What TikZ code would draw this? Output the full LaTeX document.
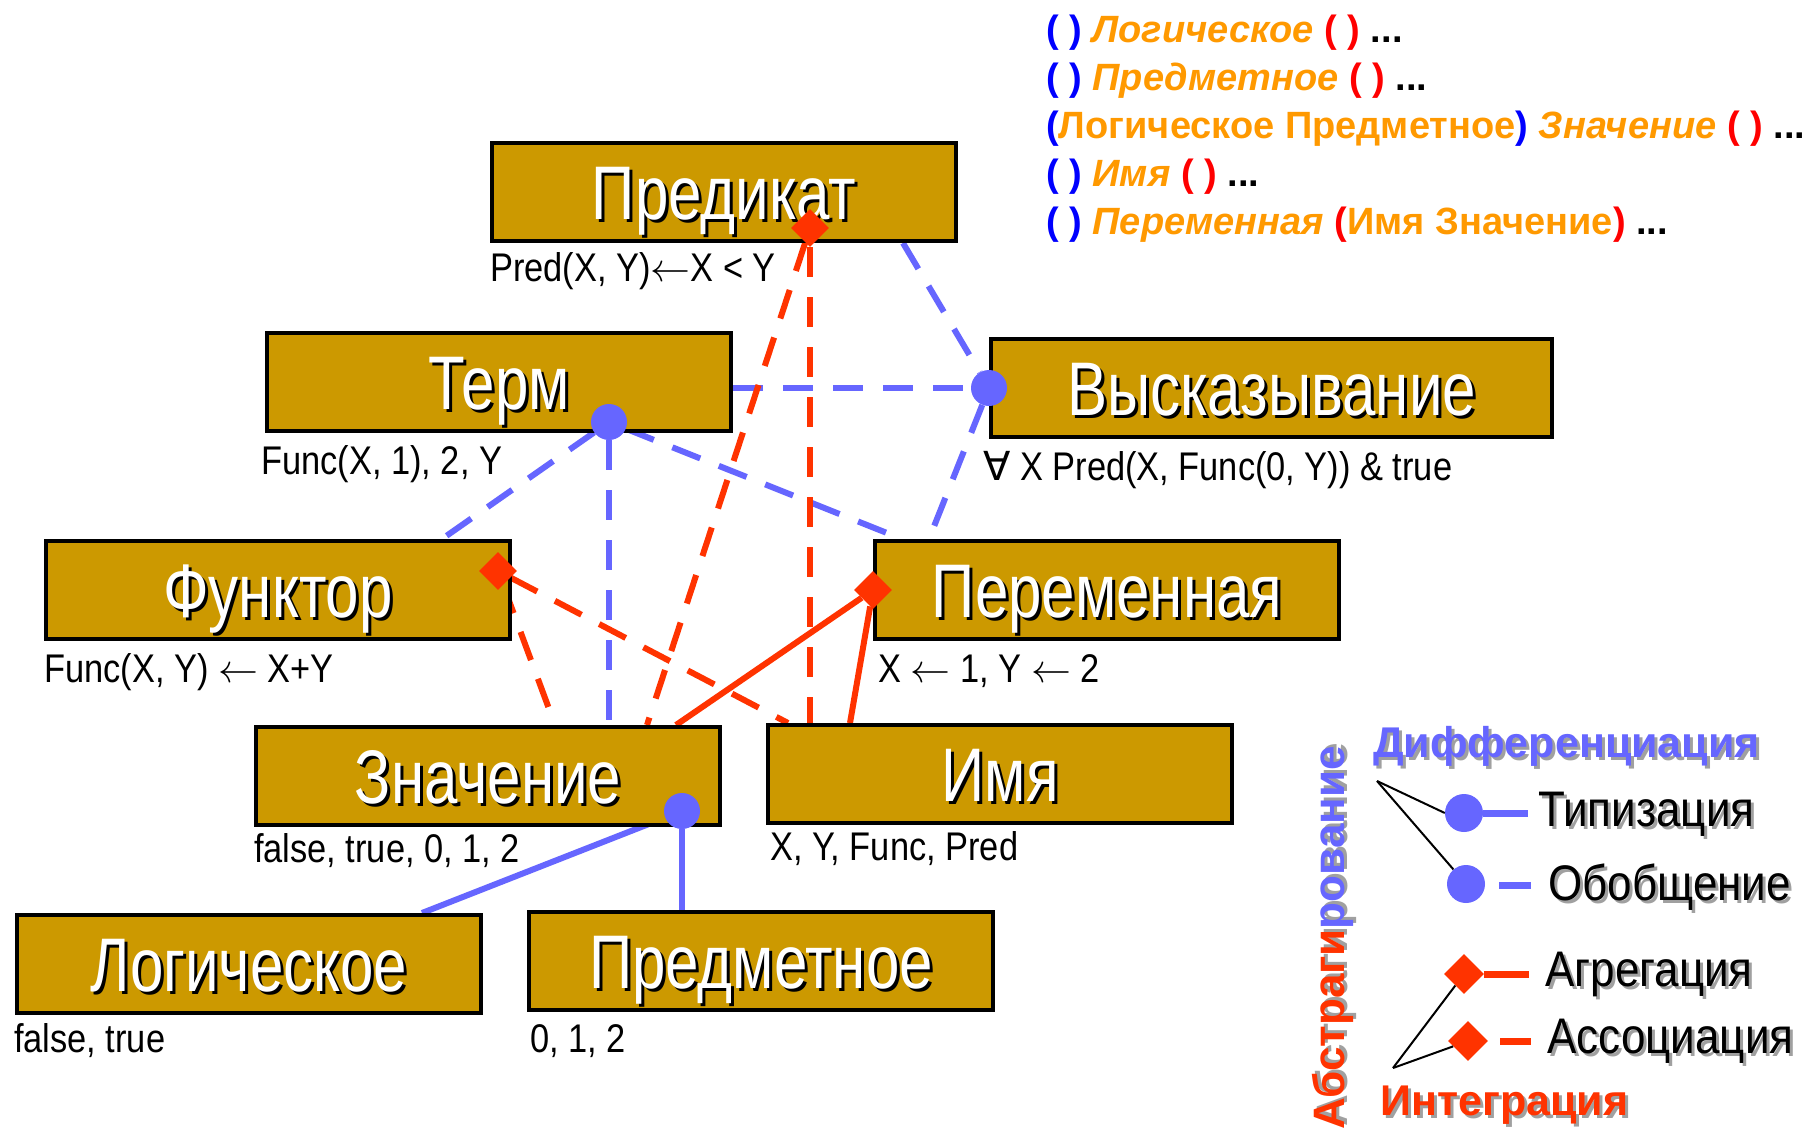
\RequirePackage{fix-cm}
\documentclass[tikz,border=0pt]{standalone}
\usepackage{fontspec}
\setmainfont{Liberation Sans}
\newfontfamily\boxfont[FakeStretch=0.79]{Liberation Sans}
\newfontfamily\lblfont[FakeStretch=0.86]{Liberation Sans}
\newfontfamily\legfont[FakeStretch=0.88]{Liberation Sans}
\newfontfamily\symfont{DejaVu Sans}
\usetikzlibrary{shapes.geometric,calc,backgrounds}

\definecolor{gold}{HTML}{CC9900}
\definecolor{lilac}{HTML}{6666FF}
\definecolor{scarlet}{HTML}{FF3300}
\definecolor{amber}{HTML}{FF9900}
\definecolor{pureblue}{HTML}{0000FF}
\definecolor{purered}{HTML}{FF0000}
\definecolor{shade}{HTML}{A0A0A0}

% text with a drop shadow: #1 shadow colour, #2 text
\newcommand\shtext[2]{\makebox[0pt][l]{\hspace{3pt}\raisebox{-3pt}{\color{#1}#2}}#2}
% two-coloured text with a grey drop shadow
\newcommand\shtwo[2]{\makebox[0pt][l]{\hspace{3pt}\raisebox{-3pt}{\color{shade}#1#2}}\textcolor{scarlet}{#1}\textcolor{lilac}{#2}}
\newcommand\larr{$\leftarrow$}

\tikzset{
  box/.style={draw=black, line width=4pt, fill=gold, minimum width=464pt,
    minimum height=98pt, anchor=north west, inner sep=0pt, text=white,
    text height=54pt, text depth=0pt,
    font=\boxfont\fontsize{76}{80}\selectfont},
  lbl/.style={anchor=base west, inner sep=0pt,
    font=\lblfont\fontsize{40}{42}\selectfont},
  gen/.style={draw=lilac, line width=6pt, dash pattern=on 30pt off 20pt},
  typ/.style={draw=lilac, line width=6pt},
  assoc/.style={draw=scarlet, line width=6pt, dash pattern=on 30pt off 20pt},
  aggr/.style={draw=scarlet, line width=6pt},
  dot/.style={circle, fill=lilac, inner sep=0pt, minimum size=36pt},
  rhomb/.style={diamond, fill=scarlet, inner sep=0pt, minimum size=38pt},
  toptxt/.style={anchor=base west, inner sep=0pt,
    font=\bfseries\fontsize{38}{40}\selectfont},
  legtxt/.style={anchor=west, inner sep=0pt,
    font=\legfont\fontsize{50}{52}\selectfont},
  headtxt/.style={inner sep=0pt, font=\bfseries\fontsize{43}{46}\selectfont},
  pointer/.style={draw=black, line width=2pt},
}

\begin{document}
\begin{tikzpicture}[x=1pt, y=-1pt]
\useasboundingbox (0,0) rectangle (1809,1130);

% concept boxes
\node[box] (pred)  at (490,141)  {\shtext{black}{Предикат}};
\node[box] (term)  at (265,331)  {\shtext{black}{Терм}};
\node[box, minimum width=561pt] (vysk) at (989,337) {\shtext{black}{Высказывание}};
\node[box] (func)  at (44,539)   {\shtext{black}{Функтор}};
\node[box] (perem) at (873,539)  {\shtext{black}{Переменная}};
\node[box] (znach) at (254,725)  {\shtext{black}{Значение}};
\node[box] (name)  at (766,723)  {\shtext{black}{Имя}};
\node[box] (logic) at (15,913)   {\shtext{black}{Логическое}};
\node[box] (subj)  at (527,910)  {\shtext{black}{Предметное}};

% examples under the boxes
\node[lbl] (lpred)  at (490,281)  {Pred(X, Y)\larr X < Y};
\node[lbl] (lterm)  at (261,474)  {Func(X, 1), 2, Y};
\node[lbl] (lvysk)  at (983,480)  {{\symfont ∀} X Pred(X, Func(0, Y)) \& true};
\node[lbl] (lfunc)  at (44,682)   {Func(X, Y) \larr{} X+Y};
\node[lbl] (lperem) at (878,682)  {X \larr{} 1, Y \larr{} 2};
\node[lbl] (lznach) at (254,862)  {false, true, 0, 1, 2};
\node[lbl] (lname)  at (770,860)  {X, Y, Func, Pred};
\node[lbl] (llogic) at (14,1052)  {false, true};
\node[lbl] (lsubj)  at (530,1052) {0, 1, 2};

% relation markers
\node[dot]   (tdot) at (609,422) {};
\node[dot]   (vdot) at (vysk.west) {};
\node[dot]   (zdot) at (682,811) {};
\node[rhomb] (pdia) at (810,228) {};
\node[rhomb] (fdia) at (498,571) {};
\node[rhomb] (vdia) at (perem.west) {};

\begin{scope}[on background layer]
  \fill[white] (0,0) rectangle (1809,1130);
  % generalisation
  \draw[gen] (term.east |- vdot) -- (vdot);
  \draw[gen] ([xshift=413pt]pred.south west) -- (vdot);
  \draw[gen] (vdot) -- ([xshift=56pt]perem.north west);
  \draw[gen] (tdot) -- ([xshift=398pt]func.north west);
  \draw[gen] (tdot) -- (tdot |- znach.north);
  \draw[gen] (tdot) -- ([xshift=29pt]perem.north west);
  % typing
  \draw[typ] (zdot) -- ([xshift=407pt]logic.north west);
  \draw[typ] (zdot) -- (zdot |- subj.north);
  % association
  \draw[assoc] (pdia) -- ([xshift=393pt]znach.north west);
  \draw[assoc] (pdia) -- (pdia |- name.north);
  \draw[assoc] (fdia) -- ([xshift=301pt]znach.north west);
  \draw[assoc] (fdia) -- ([xshift=22pt]name.north west);
  % aggregation
  \draw[aggr] (vdia) -- ([xshift=422pt]znach.north west);
  \draw[aggr] (vdia) -- ([xshift=84pt]name.north west);
\end{scope}

% notation lines, top right
\node[toptxt] (n1) at (1046,42)  {\textcolor{pureblue}{( )} \textcolor{amber}{\itshape Логическое} \textcolor{purered}{( )} ...};
\node[toptxt] (n2) at (1046,90)  {\textcolor{pureblue}{( )} \textcolor{amber}{\itshape Предметное} \textcolor{purered}{( )} ...};
\node[toptxt] (n3) at (1046,138) {\textcolor{pureblue}{(}\textcolor{amber}{Логическое Предметное}\textcolor{pureblue}{)} \textcolor{amber}{\itshape Значение} \textcolor{purered}{( )} ...};
\node[toptxt] (n4) at (1046,186) {\textcolor{pureblue}{( )} \textcolor{amber}{\itshape Имя} \textcolor{purered}{( )} ...};
\node[toptxt] (n5) at (1046,234) {\textcolor{pureblue}{( )} \textcolor{amber}{\itshape Переменная} \textcolor{purered}{(}\textcolor{amber}{Имя Значение}\textcolor{purered}{)} ...};

% legend
\node[headtxt, anchor=west, text=lilac] (diff) at (1373,748) {\shtext{shade}{Дифференциация}};
\node[headtxt, anchor=west, text=scarlet] (integ) at (1380,1107) {\shtext{shade}{Интеграция}};
\node[headtxt, rotate=90, font=\bfseries\fontsize{44}{46}\selectfont] (abstr) at (1334,938) {\shtwo{Абстраги}{рование}};

\node[dot, minimum size=38pt] (lc1) at (1464,813) {};
\node[dot, minimum size=38pt] (lc2) at (1466,884) {};
\node[rhomb, minimum size=40pt] (ld1) at (1464,974) {};
\node[rhomb, minimum size=40pt] (ld2) at (1468,1041) {};

\coordinate (lc1e) at (1528,813);
\coordinate (lg1) at (1499,885);
\coordinate (lg2) at (1531,885);
\coordinate (ld1e) at (1529,974);
\coordinate (la1) at (1500,1041);
\coordinate (la2) at (1531,1041);
\draw[typ, line width=7pt] (lc1) -- (lc1e);
\draw[typ, line width=7pt] (lg1) -- (lg2);
\draw[aggr, line width=7pt] (ld1) -- (ld1e);
\draw[aggr, line width=7pt] (la1) -- (la2);

\coordinate (dpt) at (1377,781);
\coordinate (ipt) at (1393,1068);
\draw[pointer] (dpt) -- (lc1.west);
\draw[pointer] (dpt) -- (lc2);
\draw[pointer] (ipt) -- (ld1);
\draw[pointer] (ipt) -- (ld2);

\node[legtxt] (t1) at (1538,816)  {\shtext{shade}{Типизация}};
\node[legtxt] (t2) at (1548,889)  {\shtext{shade}{Обобщение}};
\node[legtxt] (t3) at (1545,976)  {\shtext{shade}{Агрегация}};
\node[legtxt] (t4) at (1547,1043) {\shtext{shade}{Ассоциация}};
\end{tikzpicture}
\end{document}
